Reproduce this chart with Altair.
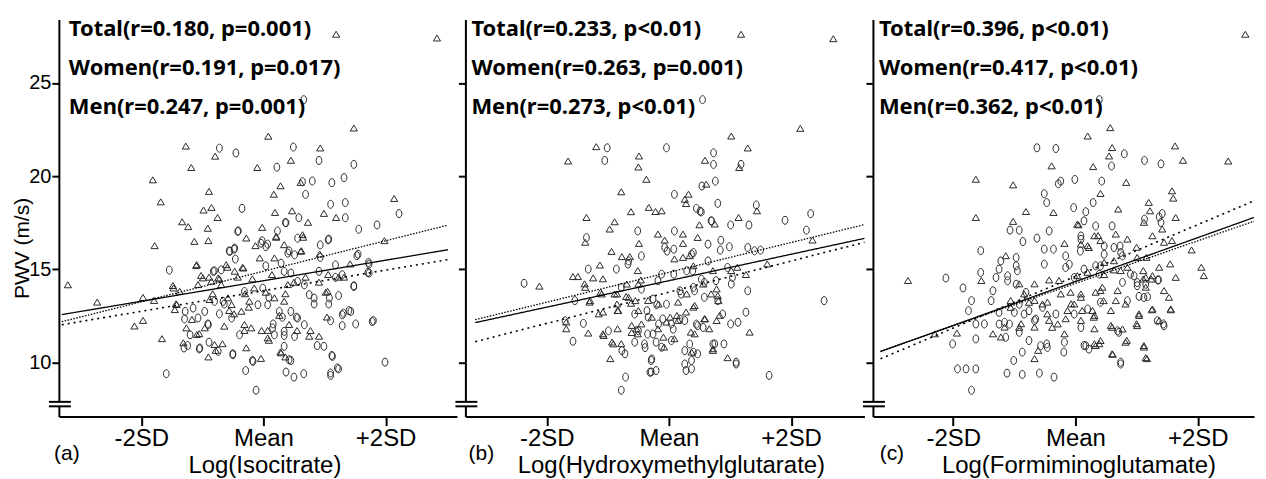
import altair as alt
import pandas as pd

# ---------------- data (x in SD units, y = PWV m/s) ----------------
A_CIRCLES = [(-1.54,14.96),(-1.59,9.40),(-1.29,12.34),(-1.24,10.91),(-1.05,10.73),(-0.89,11.09),(-0.91,12.07),(-0.80,14.92),
 (-0.72,12.61),(-0.64,13.14),(-0.56,15.99),(-0.48,16.08),(-0.50,10.47),(-0.46,15.55),(-0.41,17.06),(-0.35,18.27),(-0.29,9.57),
 (-0.18,10.11),(-0.12,8.51),(-0.02,16.53),(0.04,15.19),(0.07,16.35),(0.09,13.5),(0.16,12.07),(0.22,20.48),(0.23,17.06),(0.31,12.43),
 (0.34,11.45),(0.36,17.51),(0.37,9.49),(0.42,15.99),(0.45,10.11),(0.50,9.22),(0.54,12.43),(0.58,17.77),(0.64,19.7),(0.66,9.40),
 (0.69,19.02),(0.80,19.74),(0.83,13.14),(0.88,10.91),(0.91,20.84),(0.93,15.64),(1.07,16.62),(1.10,18.49),(1.12,19.65),(1.12,10.38),
 (1.10,9.31),(1.18,14.57),(1.23,9.66),(1.32,19.92),(1.34,18.58),(1.34,17.77),(1.23,13.59),(1.29,11.98),(1.40,12.78),(1.48,20.63),
 (1.48,14.12),(1.53,15.73),(1.56,17.15),(1.51,12.07),(1.72,15.37),(1.71,14.83),(1.80,12.25),(1.86,17.38),(1.99,10.02),(2.22,17.99),
 (1.07,13.14),(-0.72,21.5),(-0.45,21.24),(0.49,21.56),(0.66,24.1),
 (-1.28,12.74),(-1.15,12.92),(-0.82,14.89),(-0.69,14.97),(-0.55,15.96),(-0.47,16.14),(-0.42,17.03),(-0.80,13.28),(-0.66,13.28),
 (-0.96,12.74),(-1.07,12.39),(-1.20,11.49),(-0.90,12.03),(-0.52,12.39),(-0.39,11.49),(-0.74,10.6),(-0.50,10.42),(-1.30,10.78),
 (-1.04,10.78),(-0.31,13.81),(-0.17,10.06),
 (-0.04,16.4),(0.04,16.22),(0.40,15.87),(0.51,15.78),(0.29,15.33),(0.34,14.89),(0.45,14.8),(0.56,14.35),(0.67,14.17),(0.75,13.64),
 (0.83,13.46),(0.91,14.89),(1.18,15.24),(1.29,14.71),(1.08,13.46),(-0.01,13.99),(-0.09,13.1),(0.07,13.1),(0.26,12.74),(0.45,12.74),
 (0.56,12.39),(0.67,12.03),(0.15,11.85),(0.18,11.49),(0.34,11.67),(0.51,11.4),(0.99,10.87),(0.34,10.87),(0.42,10.15),(1.13,10.33),
 (1.21,9.71),(1.10,9.44),(0.56,16.67),(1.06,16.58),(0.93,16.31),(1.55,15.81),(1.73,15.28),(1.73,14.8),(1.48,14.08),(1.78,12.2),
 (1.31,12.65),(1.43,12.74),(1.10,12.24),(1.29,12.56),(0.37,17.5)]
A_TRIANGLES = [(-3.2,14.16),(-2.72,13.23),(-2.11,11.95),(-1.97,12.25),(-1.97,13.48),(-1.81,19.79),(-1.68,18.61),(-1.78,16.26),
 (-1.79,13.32),(-1.66,11.27),(-1.48,14.12),(-1.43,13.14),(-1.33,17.54),(-1.23,17.28),(-1.18,20.45),(-1.13,16.49),(-1.10,15.19),
 (-1.05,11.54),(-0.98,18.17),(-0.91,17.19),(-0.89,19.17),(-0.85,18.31),(-0.75,17.77),(-0.90,16.53),(-1.02,14.66),(-0.89,14.57),
 (-0.90,10.29),(-0.83,13.68),(-0.72,14.48),(-0.78,10.64),(-0.67,11.0),(-0.59,15.1),(-0.56,12.78),(-0.48,12.6),(-0.42,14.57),
 (-0.34,15.1),(-0.30,13.68),(-0.31,11.71),(-0.24,12.96),(-0.18,14.48),(-0.13,16.26),(-0.10,20.45),(-0.06,15.6),(-0.02,17.24),
 (-0.03,11.71),(0.04,13.76),(0.07,11.71),(0.09,11.18),(0.14,14.71),(0.17,19.02),(0.19,18.04),(0.21,16.71),(0.26,12.52),(0.28,19.47),
 (0.28,10.56),(0.36,10.29),(0.36,13.68),(0.45,20.84),(0.47,18.13),(0.50,14.3),(0.55,11.71),(0.61,19.65),(0.62,15.99),(0.65,16.71),
 (0.69,14.57),(0.73,17.51),(0.77,11.71),(0.91,14.3),(0.92,15.81),(0.99,17.99),(1.02,13.76),(1.04,12.43),(1.19,17.77),(1.23,14.57),
 (1.32,14.57),(1.42,15.28),(1.98,16.53),(2.14,18.79),
 (1.19,27.6),(2.84,27.4),(1.48,22.57),(-1.27,21.6),(-0.79,21.06),(0.08,22.13),(0.93,21.5),
 (-1.47,13.99),(-1.37,13.81),(-1.42,13.1),(-1.45,12.83),(-1.07,14.17),(-0.99,14.53),(-1.09,15.24),(-0.61,15.24),(-0.47,14.89),
 (-0.33,15.06),(-0.28,16.67),(-0.85,14.35),(-0.74,14.53),(-0.69,14.17),(-0.58,13.46),(-0.88,13.37),(-1.17,12.3),(-1.26,11.85),
 (-1.09,11.49),(-0.96,11.85),(-0.64,11.94),(-0.36,12.74),(-0.31,12.03),(-0.80,10.96),(-0.28,10.78),(-1.31,11.05),(-0.23,13.28),
 (-0.52,13.1),(-0.20,11.85),(-0.15,13.99),
 (0.21,16.76),(0.34,16.31),(0.61,15.96),(0.64,16.85),(0.18,15.6),(0.40,14.17),(1.06,14.71),(1.05,13.81),(0.18,13.46),(0.34,13.28),
 (0.42,12.03),(0.07,11.31),(0.75,11.4),(0.91,11.4),(0.29,10.51),(-0.04,10.21)]

B_CIRCLES = [(-2.37,14.25),(-1.54,13.32),(-1.35,16.7),(-1.32,15.01),(-1.57,11.14),(-1.40,12.1),(-1.01,21.52),(-1.05,20.84),
 (-0.04,21.52),(0.73,21.25),(0.73,20.63),(1.18,20.63),(0.76,19.73),(0.54,19.47),(0.09,19.02),(0.80,18.54),(0.45,18.27),(0.53,18.08),
 (-0.51,17.06),(0.09,17.06),(0.69,17.6),(0.85,16.56),(1.01,17.38),(1.31,17.38),(1.43,18.45),(1.90,17.63),(2.32,17.99),(2.25,17.1),
 (2.54,13.32),(1.64,9.31),(-0.45,15.72),(-0.07,16.17),(0.08,16.08),(0.37,15.81),(0.64,16.35),(0.84,16.03),(0.99,16.21),(1.29,16.17),
 (1.40,15.99),(1.50,16.03),(0.64,15.45),(0.96,15.1),(1.04,14.56),(1.29,13.85),(1.26,12.7),(1.13,12.16),(1.01,12.07),(0.88,12.6),
 (1.02,14.21),(0.08,14.74),(0.39,14.92),(0.58,14.3),(0.77,14.39),(0.80,13.32),(0.58,13.5),(0.42,13.85),(0.20,13.67),(-0.18,14.39),
 (-0.26,13.41),(-0.45,13.94),(-0.67,15.28),(-0.86,15.01),(-0.78,14.03),(-0.56,12.6),(-0.34,12.43),(-0.10,12.34),(0.04,12.07),
 (0.26,12.25),(0.47,11.98),(-0.56,11.09),(-0.40,11.0),(-0.26,11.53),(-0.21,11.09),(0.04,11.18),(0.26,10.64),(0.37,10.11),(0.47,10.47),
 (0.75,11.0),(1.10,10.02),(0.90,11.0),(-0.29,10.11),(-0.29,9.49),(-0.21,9.57),(0.28,9.57),(0.37,9.66),(-0.71,9.22),(-0.78,8.51),
 (-0.72,10.47),(0.55,24.1),
 (-1.70,12.24),(-0.66,15.45),(-0.99,11.7),(-0.77,10.64),(-0.39,10.8),(-0.28,10.19),(-0.31,9.48),(-0.20,13.1),(-0.36,12.78),
 (-0.50,11.7),(-0.35,11.53),(-0.17,12.06),(-0.12,14.74),
 (0.51,18.12),(0.70,17.59),(-0.03,15.98),(0.40,15.9),(0.18,13.85),(-0.04,13.13),(0.18,12.33),(0.45,12.06),(0.07,11.79),(0.34,10.99),
 (0.40,10.55),(0.26,9.92),(0.72,10.99),(1.10,9.92),(-0.12,10.82),(0.56,11.88),(0.29,14.92),(0.53,14.47),(0.40,14.03)]
B_TRIANGLES = [(1.18,27.6),(2.69,27.36),(2.15,22.55),(1.02,22.14),(1.29,21.5),(-1.19,21.57),(-1.65,20.8),(-0.49,21.07),(-0.50,20.48),
 (-0.37,19.82),(-0.78,19.15),(0.59,20.84),(1.15,20.45),(-1.35,17.77),(-0.97,17.15),(-0.89,17.54),(-0.62,18.08),(-0.33,18.31),
 (-0.22,18.09),(-0.12,18.13),(0.26,18.75),(0.32,19.02),(0.28,18.52),(0.61,19.56),(0.50,17.38),(0.75,17.42),(1.14,17.77),(1.44,18.13),
 (2.35,16.56),(1.61,15.28),(-0.94,15.95),(-0.77,15.67),(-0.64,15.67),(-0.49,16.38),(-0.18,16.88),(-0.07,16.56),(0.23,16.88),
 (0.23,16.38),(0.47,16.7),(0.09,15.55),(0.23,15.63),(0.34,15.72),(-1.13,15.22),(-1.37,16.44),(-1.57,14.6),(-1.49,14.6),(-1.24,14.53),
 (-1.08,14.48),(-2.12,14.09),(-1.38,14.21),(-1.12,13.76),(-0.89,13.67),(-0.70,13.53),(-0.51,14.92),(-0.46,14.42),(-1.30,13.23),
 (-1.08,12.7),(-0.84,12.78),(-0.62,13.17),(-0.34,13.32),(0.15,13.23),(0.28,12.7),(0.42,13.05),(0.69,13.67),(0.80,13.58),(1.26,14.71),
 (1.12,15.1),(-1.68,12.16),(-1.68,11.8),(-1.32,11.57),(-1.08,11.53),(-0.84,11.8),(-0.61,11.98),(-0.51,11.53),(-0.18,11.8),(-0.04,12.16),
 (0.15,12.25),(0.58,12.34),(0.66,11.8),(0.83,12.52),(1.32,11.62),(-0.78,11.0),(-0.93,11.09),(-0.96,10.2),(-0.08,10.82),(0.09,11.27),
 (0.36,11.62),(0.72,10.73),(0.96,10.25),
 (-1.37,14.02),(-0.69,14.2),(-0.66,13.49),(-0.50,14.2),(-0.85,13.67),(-1.10,13.67),(-1.29,13.31),(-1.15,12.6),(-0.85,13.13),
 (-0.83,12.78),(-0.55,13.31),(-0.50,12.78),(-0.45,12.06),(-0.53,11.79),(-0.61,11.6),(-1.07,11.44),(-0.91,10.99),(-0.28,12.42),
 (-0.17,13.13),
 (0.40,15.18),(1.02,14.92),(0.72,14.92),(0.29,13.67),(0.56,14.2),(0.78,13.94),(0.81,13.31),(0.40,12.96),(0.59,12.33),(0.78,12.24),
 (0.13,12.51),(0.42,11.53),(0.37,10.55),(0.72,10.64),(-0.09,11.35),(0.02,12.42)]

C_CIRCLES = [(-0.63,21.52),(-0.32,21.48),(0.80,21.2),(1.13,20.84),(1.40,20.66),(0.59,20.54),(-0.01,19.82),(-0.24,19.73),(-0.28,19.59),
 (0.43,19.73),(-0.51,19.06),(-0.47,18.58),(0.29,18.58),(-0.03,18.31),(0.17,18.09),(0.14,17.6),(0.33,17.33),(0.60,17.33),(1.37,17.81),
 (1.42,17.99),(1.40,17.51),(1.13,17.69),(-1.07,17.1),(-0.92,17.1),(-0.63,16.67),(-0.43,17.06),(-0.86,16.49),(-0.51,16.08),(-0.36,16.08),
 (-0.16,15.72),(0.09,16.61),(0.47,15.81),(0.63,16.17),(0.74,15.9),(-1.55,16.0),(-1.55,14.83),(-1.22,15.45),(-1.25,15.01),(-0.97,15.19),
 (-1.11,14.65),(-0.51,15.28),(-0.16,15.1),(0.14,15.01),(0.33,15.19),(0.39,14.74),(0.96,14.65),(1.01,14.12),(1.18,13.53),(1.36,14.44),
 (-2.12,14.53),(-1.84,14.0),(-1.70,13.32),(-1.75,12.78),(-1.35,13.85),(-1.38,13.32),(-1.63,12.07),(-1.49,12.07),(-1.63,11.27),
 (-2.01,11.0),(-1.93,9.66),(-1.79,9.66),(-1.63,9.66),(-1.70,8.51),(-1.12,9.43),(-0.87,9.36),(-0.59,9.43),(-0.35,9.22),(-1.01,10.11),
 (-0.87,10.56),(-0.76,11.18),(-0.47,11.0),(-0.18,11.09),(-0.19,10.56),(0.14,10.91),(0.74,10.02),(0.71,11.62),(1.44,12.07),(1.04,13.55),
 (0.77,14.3),(-0.54,12.96),(-0.32,12.6),(-0.02,12.6),(0.20,12.87),(0.41,13.23),(-0.84,12.6),(-1.16,12.16),(-1.00,12.69),(-0.67,12.25),
 (-1.25,12.69),(0.39,24.1),
 (-1.30,14.56),(-1.11,14.38),(-0.97,14.2),(-0.81,13.76),(-0.92,13.13),(-0.76,12.78),(-0.65,12.33),(-1.08,12.06),(-1.25,12.06),
 (-0.57,10.9),(-0.46,10.81),(-0.92,11.62),(-1.14,11.35),(-0.97,15.63),(-0.95,14.92),
 (0.09,16.79),(0.08,15.98),(0.47,16.25),(0.73,16.25),(0.77,15.72),(0.41,15.18),(0.90,14.74),(1.01,14.29),(1.15,14.2),(1.35,14.42),
 (0.85,13.31),(1.12,13.49),(1.45,11.97),(1.34,12.24),(0.69,11.7),(0.74,9.92),(0.17,10.9),(0.22,10.72),(0.09,11.88),(-0.1,15.27),
 (-0.02,14.56)]
C_TRIANGLES = [(2.78,27.6),(0.57,22.59),(0.20,22.14),(1.63,21.61),(1.76,20.84),(2.50,20.8),(0.60,21.52),(0.55,21.07),(-0.39,20.54),
 (0.29,20.5),(-1.63,19.82),(-1.02,19.52),(0.83,19.65),(0.41,19.06),(1.58,19.2),(1.60,18.81),(-1.63,17.77),(-0.81,18.09),(-1.02,17.56),
 (-0.36,18.04),(0.05,17.38),(0.70,18.22),(1.20,18.58),(1.22,18.13),(1.12,17.51),(1.42,17.15),(1.64,17.77),(1.26,16.79),(1.45,16.44),
 (1.58,16.53),(0.31,16.79),(0.41,16.53),(0.20,16.26),(0.66,16.88),(0.85,16.61),(-0.18,16.38),(1.00,16.17),(1.16,15.63),(1.90,16.03),
 (2.06,15.1),(2.10,14.65),(1.15,14.56),(1.37,15.1),(1.55,15.28),(1.64,14.56),(1.26,14.65),(-1.54,14.39),(-2.74,14.39),(-1.14,15.72),
 (-0.92,14.21),(-0.67,14.21),(-0.43,14.42),(-0.27,14.39),(0.03,14.65),(0.20,14.83),(0.47,14.71),(0.63,14.96),(0.85,15.1),(1.01,15.63),
 (1.15,14.03),(0.69,13.85),(0.44,14.03),(0.33,13.76),(0.09,13.67),(-0.24,13.67),(-0.46,13.23),(-0.67,13.32),(-0.84,13.67),(-1.06,13.32),
 (-0.07,13.14),(0.31,12.52),(0.58,12.78),(1.04,12.6),(1.25,12.82),(1.56,12.82),(1.37,12.25),(1.00,12.07),(0.58,11.98),(0.31,11.8),
 (0.09,12.25),(-0.16,12.34),(-0.43,12.25),(-0.67,11.89),(-0.89,12.07),(-1.16,11.89),(-1.35,11.53),(-1.94,11.57),(-2.30,11.53),
 (0.31,11.0),(0.84,11.18),(0.39,11.0),(1.12,10.82),(1.17,10.2),(0.61,10.43),(-0.61,10.64),(-0.67,10.2),(-1.22,11.36),
 (-0.92,11.88),(-1.06,12.95),(-0.76,13.22),(-0.54,13.13),(-0.46,12.6),(-0.29,12.06),(-0.13,12.78),(-0.18,11.53),(-0.38,11.88),
 (0.37,16.8),(0.03,17.41),(0.09,16.34),(0.22,16.16),(0.63,15.45),(0.47,15.36),(0.74,14.92),(1.11,14.92),(1.11,14.47),(1.24,14.47),
 (1.45,13.85),(1.53,13.49),(1.56,12.86),(1.26,12.86),(1.04,12.51),(1.01,11.97),(0.82,13.13),(0.66,13.31),(0.41,13.85),(0.46,13.31),
 (0.60,11.88),(0.77,11.79),(0.41,11.17),(0.33,10.9),(0.60,10.46),(0.82,11.08),(1.12,10.9),(1.15,10.25),(0.28,12.78),(0.30,12.42),
 (0.09,13.49),(0.11,12.78),(-0.08,13.76),(-0.02,13.13)]

# regression lines: x end points and y end points (total / women-dotted / men-dotted)
A_LINE_X = [-3.30, 3.02]
A_TOTAL_Y = [12.57, 16.05]
A_FINE_Y = [12.19, 17.37]
A_SPACED_Y = [12.03, 15.52]
B_LINE_X = [-3.17, 3.20]
B_TOTAL_Y = [12.14, 16.66]
B_FINE_Y = [12.30, 17.40]
B_SPACED_Y = [11.12, 16.45]
C_LINE_X = [-3.19, 2.92]
C_TOTAL_Y = [10.59, 17.78]
C_FINE_Y = [10.60, 17.58]
C_SPACED_Y = [10.20, 18.67]

A_LABELS = ["Total(r=0.180, p=0.001)", "Women(r=0.191, p=0.017)", "Men(r=0.247, p=0.001)"]
B_LABELS = ["Total(r=0.233, p<0.01)", "Women(r=0.263, p=0.001)", "Men(r=0.273, p<0.01)"]
C_LABELS = ["Total(r=0.396, p<0.01)", "Women(r=0.417, p<0.01)", "Men(r=0.362, p<0.01)"]
X_TITLES = ["Log(Isocitrate)", "Log(Hydroxymethylglutarate)", "Log(Formiminoglutamate)"]
PANEL_LETTERS = ["(a)", "(b)", "(c)"]
Y_TITLE = "PWV (m/s)"
Y_TICKS = [10, 15, 20, 25]
X_TICKS = [-2, 0, 2]
X_TICK_LABELS = ["-2SD", "Mean", "+2SD"]
Y_DOMAIN = [7.1, 28.4]
X_DOMAINS = [[-3.347, 3.167], [-3.331, 3.2], [-3.314, 2.922]]
BREAK_Y = [7.89, 7.65]

# ---------------- styling ----------------
ELLIPSE = "M0,-1A0.72,1 0 1,1 0,1A0.72,1 0 1,1 0,-1Z"
TRIANGLE = "M0,-0.8L0.9,0.7L-0.9,0.7Z"
MARK_COLOR = "#2a2a2a"

label_expr = ""
for v, t in zip(X_TICKS, X_TICK_LABELS):
    label_expr += f"datum.value == {v} ? '{t}' : "
label_expr += "''"


def panel(circles, triangles, line_x, total_y, fine_y, spaced_y, labels, xtitle, letter,
          xdom, width, first, text_dx, letter_dx):
    xs = alt.Scale(domain=xdom, nice=False, zero=False)
    ys = alt.Scale(domain=Y_DOMAIN, nice=False, zero=False)
    xaxis = alt.Axis(values=X_TICKS, labelExpr=label_expr, title=xtitle, grid=False,
                     domainColor="black", domainWidth=2, tickColor="black", tickWidth=2, tickSize=9,
                     labelFont="Liberation Sans", labelFontSize=24, labelColor="black", labelPadding=1,
                     titleFont="Liberation Sans", titleFontSize=24, titleFontWeight="normal",
                     titleColor="black", titleX=206, titleY=56, titleAlign="center",
                     titleBaseline="alphabetic")
    if first:
        yaxis = alt.Axis(values=Y_TICKS, grid=False, domainColor="black", domainWidth=2,
                         tickColor="black", tickWidth=2, tickSize=7,
                         labelFont="Liberation Sans", labelFontSize=20, labelColor="black",
                         labelPadding=1, title=Y_TITLE, titleFont="Liberation Sans", titleFontSize=21,
                         titleFontWeight="normal", titleColor="black", titleX=-36, titleY=229,
                         titleAngle=270, titleAlign="center", titleBaseline="middle")
    else:
        yaxis = alt.Axis(values=Y_TICKS, grid=False, domainColor="black", domainWidth=2,
                         tickColor="black", tickWidth=2, tickSize=7, labels=False, title=None)
    X = alt.X("x:Q", scale=xs, axis=xaxis)
    Y = alt.Y("y:Q", scale=ys, axis=yaxis)

    cdf = pd.DataFrame(circles, columns=["x", "y"])
    tdf = pd.DataFrame(triangles, columns=["x", "y"])
    layers = []
    layers.append(alt.Chart(cdf).mark_point(shape=ELLIPSE, filled=False, size=64, color=MARK_COLOR,
                                            strokeWidth=1, opacity=1).encode(x=X, y=Y))
    layers.append(alt.Chart(tdf).mark_point(shape=TRIANGLE, filled=False, size=64, color=MARK_COLOR,
                                            strokeWidth=1, opacity=1).encode(x=X, y=Y))
    for ys_vals, dash, sw in [(fine_y, [1.5, 1.5], 1.3), (spaced_y, [2, 4], 1.6), (total_y, [1, 0], 1.3)]:
        ldf = pd.DataFrame({"x": line_x, "y": ys_vals})
        layers.append(alt.Chart(ldf).mark_line(color="black", strokeWidth=sw, strokeDash=dash)
                      .encode(x=X, y=Y))
    # axis break
    gap = pd.DataFrame({"y": [BREAK_Y[0]], "y2": [BREAK_Y[1]]})
    layers.append(alt.Chart(gap).mark_rule(color="white", strokeWidth=5)
                  .encode(x=alt.value(0), y=Y, y2="y2:Q"))
    brk = pd.DataFrame({"y": BREAK_Y})
    layers.append(alt.Chart(brk).mark_rule(color="black", strokeWidth=2)
                  .encode(x=alt.value(-10), x2=alt.value(12), y=Y))
    # annotations
    for i, lab in enumerate(labels):
        tdf2 = pd.DataFrame({"t": [lab]})
        layers.append(alt.Chart(tdf2).mark_text(align="left", baseline="middle", font="Noto Sans",
                                                fontSize=22, fontWeight="bold", color="black")
                      .encode(x=alt.value(text_dx), y=alt.value(10 + 39 * i), text="t:N"))
    ldf2 = pd.DataFrame({"t": [letter]})
    layers.append(alt.Chart(ldf2).mark_text(align="center", baseline="middle", font="Liberation Sans",
                                            fontSize=21, color="black")
                  .encode(x=alt.value(letter_dx), y=alt.value(436), text="t:N"))
    return alt.layer(*layers).properties(width=width, height=398)


pa = panel(A_CIRCLES, A_TRIANGLES, A_LINE_X, A_TOTAL_Y, A_FINE_Y, A_SPACED_Y, A_LABELS, X_TITLES[0],
           PANEL_LETTERS[0], X_DOMAINS[0], 399, True, 10, 8)
pb = panel(B_CIRCLES, B_TRIANGLES, B_LINE_X, B_TOTAL_Y, B_FINE_Y, B_SPACED_Y, B_LABELS, X_TITLES[1],
           PANEL_LETTERS[1], X_DOMAINS[1], 400, False, 6, 16)
pc = panel(C_CIRCLES, C_TRIANGLES, C_LINE_X, C_TOTAL_Y, C_FINE_Y, C_SPACED_Y, C_LABELS, X_TITLES[2],
           PANEL_LETTERS[2], X_DOMAINS[2], 382, False, 6, 19)

chart = (alt.hconcat(pa, pb, pc, spacing=8.5, bounds="flush")
         .configure_view(stroke=None)
         .properties(padding={"left": 4, "top": 10, "right": 0, "bottom": 0}, background="white"))

chart.save("out.html", embed_options={"renderer": "svg", "actions": False})
